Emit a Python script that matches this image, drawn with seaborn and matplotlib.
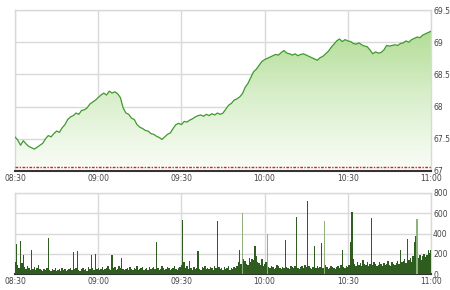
import numpy as np
import pandas as pd
import matplotlib
matplotlib.use("Agg")
import matplotlib.pyplot as plt
from matplotlib.colors import LinearSegmentedColormap
import seaborn as sns

# ---- data ----
price_minutes = list(range(0, 151))
price = [
    67.53, 67.48, 67.40, 67.47, 67.42, 67.38, 67.36, 67.34, 67.37, 67.40,
    67.43, 67.50, 67.55, 67.53, 67.58, 67.62, 67.60, 67.67, 67.72, 67.80,
    67.84, 67.86, 67.90, 67.88, 67.94, 67.95, 67.98, 68.04, 68.07, 68.10,
    68.14, 68.18, 68.21, 68.18, 68.24, 68.21, 68.23, 68.20, 68.14, 67.98,
    67.90, 67.88, 67.82, 67.80, 67.72, 67.68, 67.66, 67.63, 67.62, 67.58,
    67.57, 67.54, 67.52, 67.49, 67.53, 67.57, 67.59, 67.66, 67.72, 67.74,
    67.72, 67.77, 67.76, 67.79, 67.81, 67.84, 67.86, 67.87, 67.85, 67.88,
    67.86, 67.89, 67.87, 67.90, 67.88, 67.90, 67.96, 68.02, 68.05, 68.10,
    68.12, 68.15, 68.20, 68.30, 68.36, 68.45, 68.54, 68.58, 68.64, 68.70,
    68.73, 68.75, 68.77, 68.79, 68.81, 68.80, 68.84, 68.87, 68.83, 68.82,
    68.80, 68.82, 68.79, 68.81, 68.82, 68.80, 68.78, 68.76, 68.74, 68.72,
    68.76, 68.78, 68.82, 68.86, 68.92, 68.97, 69.02, 69.05, 69.01, 69.04,
    69.02, 69.01, 68.98, 68.97, 68.99, 68.96, 68.94, 68.93, 68.88, 68.82,
    68.85, 68.83, 68.84, 68.88, 68.95, 68.94, 68.95, 68.96, 68.95, 68.98,
    68.99, 69.02, 69.00, 69.04, 69.06, 69.08, 69.07, 69.11, 69.13, 69.15,
    69.17,
]
reference_price = 67.06

volume_minutes = [i * 0.5 for i in range(301)]
volume = [
    120, 300, 90, 60, 325, 110, 190, 70, 50, 80, 60, 40, 235, 50, 70, 40, 60, 90, 50, 40,
    30, 50, 40, 60, 355, 40, 30, 50, 40, 60, 30, 40, 50, 30, 60, 40, 50, 30, 40, 50,
    60, 40, 220, 50, 60, 225, 40, 30, 50, 60, 40, 50, 30, 70, 50, 190, 60, 40, 200, 50,
    60, 40, 50, 70, 40, 50, 60, 80, 50, 40, 190, 60, 70, 40, 50, 80, 60, 160, 50, 40,
    50, 60, 40, 70, 50, 40, 60, 50, 80, 40, 50, 60, 70, 40, 50, 60, 40, 70, 50, 60,
    70, 50, 315, 60, 40, 50, 80, 60, 40, 50, 70, 60, 40, 50, 60, 80, 50, 40, 60, 70,
    90, 535, 120, 60, 80, 50, 130, 60, 40, 70, 50, 60, 225, 50, 40, 70, 60, 80, 50, 60,
    50, 70, 60, 40, 80, 60, 525, 70, 50, 60, 40, 70, 50, 60, 80, 40, 60, 50, 70, 60,
    80, 120, 235, 100, 90, 150, 130, 100, 90, 160, 120, 150, 140, 275, 180, 120, 110, 90, 150, 80,
    100, 120, 90, 70, 60, 80, 70, 50, 60, 90, 80, 60, 50, 70, 60, 335, 70, 60, 50, 80,
    70, 60, 80, 565, 60, 50, 70, 80, 60, 90, 70, 720, 80, 60, 50, 70, 275, 60, 80, 60,
    70, 305, 60, 80, 90, 70, 50, 60, 80, 70, 60, 50, 70, 80, 60, 90, 235, 70, 60, 80,
    70, 90, 315, 610, 150, 100, 80, 120, 90, 110, 80, 140, 100, 90, 120, 80, 100, 550, 90, 120,
    100, 80, 90, 120, 100, 80, 110, 90, 100, 130, 90, 80, 120, 100, 90, 110, 130, 100, 235, 120,
    130, 150, 110, 345, 140, 160, 120, 180, 315, 375, 200, 160, 190, 140, 180, 200, 170, 190, 235, 210,
    240,
]
light_minutes = [82.0, 91.0, 111.5, 145.0]
light_volume = [600, 400, 525, 540]

tick_minutes = [0, 30, 60, 90, 120, 150]
tick_labels = ["08:30", "09:00", "09:30", "10:00", "10:30", "11:00"]
price_ticks = [67, 67.5, 68, 68.5, 69, 69.5]
price_tick_labels = ["67", "67.5", "68", "68.5", "69", "69.5"]
volume_ticks = [0, 200, 400, 600, 800]
volume_tick_labels = ["0", "200", "400", "600", "800"]

# ---- style ----
sns.set_style("white")
plt.rcParams["font.family"] = ["DejaVu Sans"]
grid_c = "#d9d9d9"
text_c = "#444444"
line_c = "#3f9a2e"
dark_bar = "#2f5d1f"
light_bar = "#8fb27c"

fig = plt.figure(figsize=(4.5, 2.9), dpi=100)
ax = fig.add_axes([15 / 450, 1 - 171 / 290, 416 / 450, 161 / 290])
ax2 = fig.add_axes([15 / 450, 1 - 274 / 290, 416 / 450, 81 / 290])

df_price = pd.DataFrame({"t": price_minutes, "p": price})

# gradient fill under the price line
poly = ax.fill_between(df_price["t"], df_price["p"], 67, color="none", lw=0)
cmap = LinearSegmentedColormap.from_list("g", ["#fbfdf9", "#d9efcb", "#aedb90"])
grad = np.linspace(0, 1, 256).reshape(-1, 1)
im = ax.imshow(grad, extent=[0, 150, 67, 69.3], origin="lower", aspect="auto",
               cmap=cmap, zorder=1)
im.set_clip_path(poly.get_paths()[0], transform=ax.transData)

sns.lineplot(data=df_price, x="t", y="p", ax=ax, color=line_c, lw=0.9, zorder=3)
ax.axhline(reference_price, color="#e02020", lw=1.0, ls=(0, (2, 1, 1, 1)), zorder=3)

ax.set_xlim(0, 150)
ax.set_ylim(67, 69.5)
ax.set_xticks(tick_minutes)
ax.set_xticklabels(tick_labels)
ax.set_yticks(price_ticks)
ax.set_yticklabels(price_tick_labels)
ax.yaxis.tick_right()
ax.grid(True, color=grid_c, lw=1.0, zorder=0)
ax.set_axisbelow(True)
ax.set_xlabel("")
ax.set_ylabel("")

# volume
df_vol = pd.DataFrame({"t": volume_minutes, "v": volume})
df_light = pd.DataFrame({"t": light_minutes, "v": light_volume})
sns.histplot(data=df_vol, x="t", weights="v", binwidth=0.5, binrange=(-0.25, 150.25),
             ax=ax2, color=dark_bar, alpha=1.0, linewidth=0, zorder=3)
sns.histplot(data=df_light, x="t", weights="v", binwidth=0.5, binrange=(-0.25, 150.25),
             ax=ax2, color=light_bar, alpha=1.0, linewidth=0, zorder=3)
ax2.set_xlim(0, 150)
ax2.set_ylim(0, 800)
ax2.set_xticks(tick_minutes)
ax2.set_xticklabels(tick_labels)
ax2.set_yticks(volume_ticks)
ax2.set_yticklabels(volume_tick_labels)
ax2.yaxis.tick_right()
ax2.grid(True, color=grid_c, lw=1.0, zorder=0)
ax2.set_axisbelow(True)
ax2.set_xlabel("")
ax2.set_ylabel("")

for a in (ax, ax2):
    for s in ("top", "left", "right"):
        a.spines[s].set_color(grid_c)
        a.spines[s].set_linewidth(1.0)
    a.spines["bottom"].set_color("#333333")
    a.spines["bottom"].set_linewidth(1.5)
    a.tick_params(axis="both", length=0, labelsize=5.5, colors=text_c, pad=2)
    a.tick_params(axis="y", pad=1.5)

fig.savefig("out.png", dpi=100)
